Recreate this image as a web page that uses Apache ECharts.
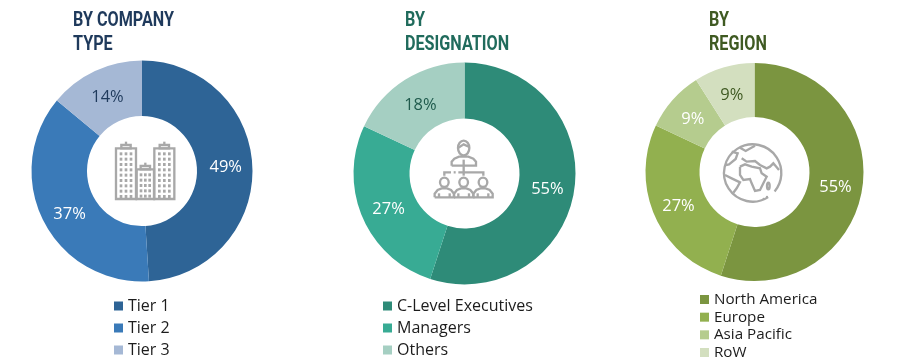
<!DOCTYPE html>
<html><head><meta charset="utf-8">
<style>html,body{margin:0;padding:0;background:#fff}#c{width:900px;height:362px}</style>
<script src="https://cdn.jsdelivr.net/npm/echarts@6/dist/echarts.min.js"></script>
</head><body><div id="c"></div>
<script>
const companyNames = ['Tier 1', 'Tier 2', 'Tier 3'];
const companyShares = [49, 37, 14];
const designationNames = ['C-Level Executives', 'Managers', 'Others'];
const designationShares = [55, 27, 18];
const regionNames = ['North America', 'Europe', 'Asia Pacific', 'RoW'];
const regionShares = [55, 27, 9, 9];

const companyColors = ['#2E6496', '#3A7AB8', '#A5B8D5'];
const designationColors = ['#2E8B78', '#38AB94', '#A5CFC2'];
const regionColors = ['#7B9540', '#92B04F', '#B5CC8E', '#D3DFBF'];
const companyLabelColors = ['#fff', '#fff', '#1F3A5C'];
const designationLabelColors = ['#fff', '#fff', '#1F5A4C'];
const regionLabelColors = ['#fff', '#fff', '#fff', '#3F5A22'];

// Small per-label nudges [dx, dy] from ECharts' default inside position
const companyNudges = [[-2, -1], [4, 4], [2, 4]];
const designationNudges = [[-2, 2], [3, 2], [2, 4]];
const regionNudges = [[-3, 2], [2, 1], [2, 4], [1, 5]];

const TITLE_FONT = 'Roboto,sans-serif';
const BODY_FONT = '"Open Sans","Noto Sans",sans-serif';

function pie(names, shares, colors, labelColors, nudges, center, radius) {
  return {
    type: 'pie', center, radius, startAngle: 90, animation: false, silent: true,
    avoidLabelOverlap: false, labelLine: { show: false },
    label: { show: true, position: 'inside', formatter: '{c}%', fontFamily: BODY_FONT, fontSize: 16.5 },
    labelLayout: (p) => ({ dx: nudges[p.dataIndex][0], dy: nudges[p.dataIndex][1] }),
    data: names.map((n, i) => ({
      name: n, value: shares[i],
      itemStyle: { color: colors[i] },
      label: { color: labelColors[i] }
    }))
  };
}
function legend(names, left, top, lineHeight, gap, fontSize) {
  return {
    orient: 'vertical', left, top, data: names, icon: 'rect', itemWidth: 9, itemHeight: 9,
    itemGap: gap, padding: 0, selectedMode: false,
    textStyle: { fontFamily: BODY_FONT, fontSize, color: '#1c1c1c', lineHeight, height: lineHeight }
  };
}
// Titles are condensed in the reference: real text, narrowed horizontally
function title(text, x, fill) {
  return { type: 'text', x, y: 9.5, scaleX: 0.83, scaleY: 1,
    style: { text, fill, font: 'bold 19.5px ' + TITLE_FONT, lineHeight: 24, textAlign: 'left', textVerticalAlign: 'top' } };
}

// Decorative centre icons, in 3x zoom units, scaled down by their groups
const GREY = '#A8A8A8';
const ln = { stroke: GREY, fill: 'none', lineWidth: 7 };
const poly = (points, smooth) => ({ type: 'polyline', shape: { points, smooth: smooth || 0 }, style: ln });
const rect = (x, y, width, height) => ({ type: 'rect', shape: { x, y, width, height }, style: ln });
const ell = (cx, cy, rx, ry) => ({ type: 'ellipse', shape: { cx, cy, rx, ry }, style: ln });
const dot = (cx, cy) => ({ type: 'circle', shape: { cx, cy, r: 3.5 }, style: { fill: GREY } });

function tower(x, w, top, roofW, cols, rows) {
  const out = [rect(x, top, w, 237 - top),
    rect(x + (w - roofW) / 2, top - 10, roofW, 10),
    poly([[x + w / 2, top - 10], [x + w / 2, top - 20]])];
  const step = w / (cols + 1);
  for (let r = 0; r < rows; r++) for (let c = 1; c <= cols; c++) {
    out.push({ type: 'rect', shape: { x: x + c * step - 4, y: top + 12 + r * 16, width: 8, height: 9 }, style: { fill: GREY } });
  }
  return out;
}
const buildingIcon = { type: 'group', x: 90, y: 120, scaleX: 1 / 3, scaleY: 1 / 3, children: [
  ...tower(78, 60, 85, 28, 3, 9), ...tower(193, 60, 85, 28, 3, 9), ...tower(140, 52, 148, 28, 3, 5)
] };

function person(cx) {
  return [ell(cx, 172, 13, 14),
    poly([[cx - 29, 217], [cx - 29, 206], [cx - 20, 195], [cx - 8, 190], [cx + 8, 190], [cx + 20, 195], [cx + 29, 206], [cx + 29, 217], [cx - 29, 217]]),
    poly([[cx - 16, 205], [cx - 16, 217]]), poly([[cx + 16, 205], [cx + 16, 217]])];
}
const peopleIcon = { type: 'group', x: 415, y: 125, scaleX: 1 / 3, scaleY: 1 / 3, children: [
  ell(146, 69, 17, 22),
  poly([[130, 68], [146, 58], [163, 66]]),
  poly([[110, 122], [110, 110], [118, 101], [132, 95], [160, 95], [175, 101], [183, 110], [183, 122], [110, 122]]),
  poly([[146, 104], [146, 152]]),
  poly([[88, 152], [88, 142], [108, 142]]), poly([[116, 142], [122, 142]]), poly([[130, 142], [205, 142], [205, 152]]),
  ...person(88), ...person(146), ...person(204)
] };

const globeIcon = { type: 'group', x: 705, y: 125, scaleX: 1 / 3, scaleY: 1 / 3, children: [
  { type: 'arc', shape: { cx: 143, cy: 144, r: 86, startAngle: 1.0, endAngle: 0.7, clockwise: true }, style: ln },
  dot(176, 222), dot(186, 216),
  poly([[105, 125], [120, 118], [140, 125], [165, 130], [170, 145], [185, 155], [175, 175], [165, 195], [150, 198], [140, 175], [135, 162], [115, 165], [105, 150], [105, 125]]),
  poly([[110, 100], [125, 110], [150, 108], [165, 120], [185, 130], [195, 125], [205, 115], [222, 135]]),
  poly([[80, 80], [98, 85], [92, 102], [72, 118], [62, 120]]),
  poly([[105, 68], [122, 78], [150, 62]]),
  poly([[60, 150], [80, 160], [105, 172], [95, 190], [85, 203]]),
  ell(190, 183, 4, 10)
] };

const chart = echarts.init(document.getElementById('c'), null, { renderer: 'canvas' });
chart.setOption({
  backgroundColor: '#fff',
  animation: false,
  legend: [
    legend(companyNames, 114, 297, 18, 4, 16),
    legend(designationNames, 383, 297, 18, 4, 16),
    legend(regionNames, 700, 291, 17, 0.67, 15.2)
  ],
  series: [
    pie(companyNames, companyShares, companyColors, companyLabelColors, companyNudges, [142, 171], [55, 110.5]),
    pie(designationNames, designationShares, designationColors, designationLabelColors, designationNudges, [464.5, 173.5], [55, 111]),
    pie(regionNames, regionShares, regionColors, regionLabelColors, regionNudges, [754.5, 172], [55, 109])
  ],
  graphic: { elements: [
    buildingIcon, peopleIcon, globeIcon,
    title('BY COMPANY\nTYPE', 73, '#1F3A5C'),
    title('BY\nDESIGNATION', 405, '#206B5C'),
    title('BY\nREGION', 709, '#3F5A22')
  ] }
});
</script></body></html>
